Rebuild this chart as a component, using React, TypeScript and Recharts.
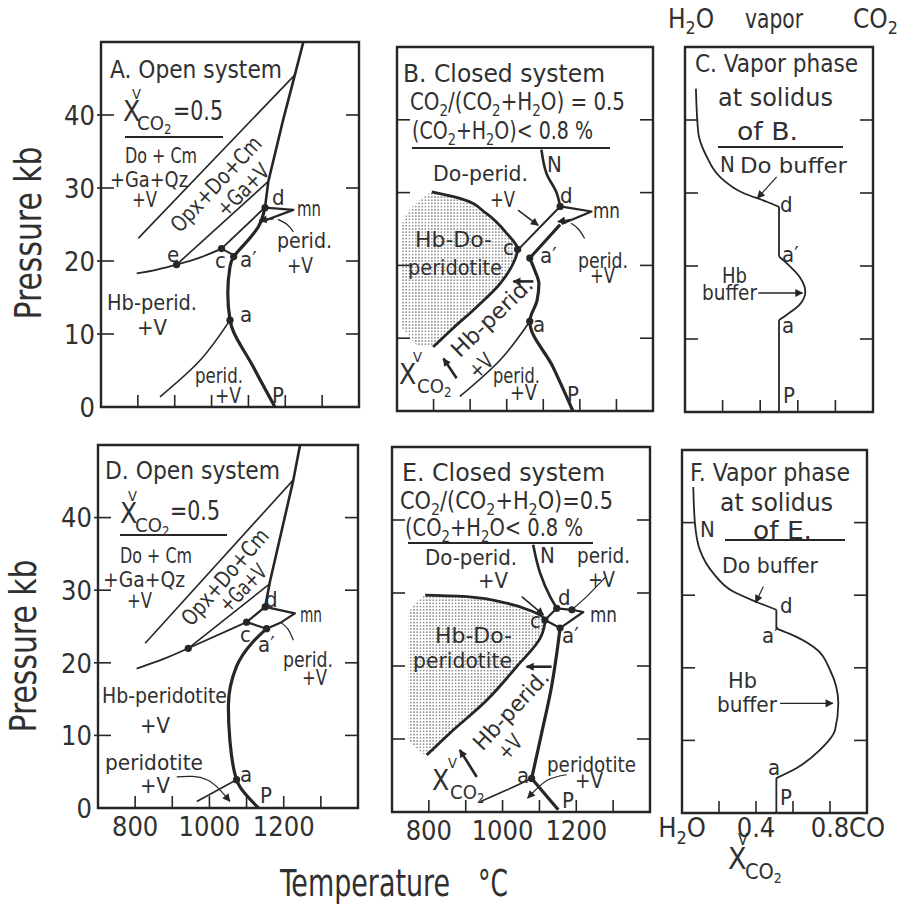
import React from "react";
import { Area, ComposedChart, Line, ReferenceArea, Scatter, XAxis, YAxis } from "recharts";

const INK = "#262626";
const TXT = "#303030";
const FONT = "'DejaVu Sans Condensed', 'DejaVu Sans', sans-serif";
const THICK = 3.2;
const MED = 2.2;
const THIN = 1.6;

// axes
const T_DOMAIN: [number, number] = [700, 1400];
const T_TICKS = [800, 900, 1000, 1100, 1200, 1300];
const T_LABELS = [800, 1000, 1200];
const X_DOMAIN: [number, number] = [0, 1];
const X_TICKS = [0.2, 0.4, 0.6, 0.8];
const F_TICKS = [0, 0.2, 0.4, 0.6, 0.8, 1];
const F_LABELS = [0, 0.4, 0.8, 1];
const P_TICKS = [10, 20, 30, 40];
const P_TICKS_LAB = [0, 10, 20, 30, 40];

// ---- A. open system  [T °C, P kb] ----
const aSolidus = [[1172, 0], [1113, 5.5], [1050, 11.9], [1044, 15.6], [1050, 19.2], [1060, 20.6], [1075, 21.5], [1100, 22.9], [1127, 24.7], [1145, 27.3]];
const aSteep = [[1145, 27.3], [1154, 30.9], [1194, 39.3], [1226, 45.5], [1249, 50]];
const aUpperDiag = [[801, 23.1], [1226, 45.5]];
const aLowerDiag = [[905, 19.5], [1154, 30.9]];
const aLeft = [[797, 18.3], [850, 18.8], [905, 19.5], [970, 20.5], [1027, 21.7]];
const aCA = [[1027, 21.7], [1060, 20.8]];
const aCD = [[1027, 21.7], [1140, 27.1]];
const aWedge = [[1145, 27.3], [1222, 27.0], [1132, 25.3]];
const aWedgeArrow = [[1168, 25.8], [1130, 25.6]];
const aLeader = [[1222, 24.0], [1205, 25.0], [1180, 25.7]];
const aLower = [[860, 1.4], [969, 6.4], [1050, 11.9]];
const aDots = [[905, 19.5], [1027, 21.7], [1060, 20.6], [1050, 11.9], [1145, 27.3]];

// ---- B. closed system ----
const bSolidus = [[1181, 0], [1126, 6.1], [1063, 12.3], [1083, 15.2], [1088, 17.5], [1076, 19.4], [1063, 21.0]];
const bStripLow = [[1063, 21.0], [1146, 25.6]];
const bStripHigh = [[1032, 22.2], [1146, 28.1]];
const bN = [[1146, 28.1], [1137, 29.9], [1109, 32.6], [1095, 35.9]];
const bWedge = [[1146, 28.1], [1232, 27.4], [1150, 25.7]];
const bWedgeArrow = [[1175, 26.3], [1140, 26.0]];
const bBoundary = [[799, 8.8], [854, 11.4], [918, 14.3], [982, 17.5], [1018, 20.3], [1030, 22.2], [1000, 24.4], [945, 27.1], [872, 29.2], [795, 30.1]];
const bStipple = [[712, 11.5, 25.5], [727, 10.7, 27.1], [755, 9.1, 28.6], [799, 8.8, 30.0], [850, 11.2, 29.5], [900, 13.5, 28.4], [950, 15.9, 26.8], [1000, 18.9, 24.4], [1018, 20.3, 23.3], [1030, 22.0, 22.2]];
const bLower = [[872, 2.0], [982, 7.0], [1063, 12.3]];
const bArrowDo = [[1031, 27.6], [1086, 25.5]];
const bArrowLeft = [[1073, 17.8], [1018, 17.8]];
const bArrowX = [[863, 4.5], [827, 7.2]];
const bLeader = [[1213, 23.7], [1196, 25.0], [1176, 25.8]];
const bDots = [[1030, 22.2], [1063, 21.0], [1063, 12.3], [1146, 28.1]];

// ---- C. vapor at solidus of B  [X_CO2, P kb] ----
const cTop = [[0.5, 28.1], [0.435, 28.8], [0.31, 30.0], [0.186, 32.2], [0.115, 35.0], [0.071, 38.2], [0.058, 44.3]];
const cStem = [[0.5, 28.1], [0.5, 21.3]];
const cBulge = [[0.5, 12.6], [0.54, 13.3], [0.61, 14.7], [0.64, 16.5], [0.61, 18.5], [0.54, 20.4], [0.5, 21.3]];
const cBase = [[0.5, 12.6], [0.5, 0]];
const cArrowDo = [[0.488, 32.2], [0.385, 29.3]];
const cArrowHb = [[0.39, 16.3], [0.625, 16.3]];

// ---- D. open system ----
const dSolidus = [[1132, 0], [1073, 3.9], [1055, 9.4], [1051, 14], [1073, 19.5], [1114, 22.7], [1154, 24.7]];
const dSteep = [[1150, 27.7], [1163, 31.2], [1226, 45.2], [1244, 50]];
const dUpperDiag = [[827, 22.7], [1226, 45.2]];
const dLeft = [[804, 19.2], [880, 20.6], [943, 22.0]];
const dLowerDiag = [[943, 22.0], [1163, 30.9]];
const dCLine = [[943, 22.0], [1100, 25.6]];
const dQuad = [[1100, 25.6], [1150, 27.7], [1230, 26.8], [1194, 25.6], [1154, 24.7], [1100, 25.6]];
const dLower = [[966, 0.9], [1073, 3.9]];
const dArrowPerid = [[912, 4.3], [993, 3.9], [1055, 0.9]];
const dLeader = [[1226, 23.1], [1212, 24.6], [1194, 25.5]];
const dDots = [[943, 22.0], [1100, 25.6], [1154, 24.7], [1150, 27.7], [1073, 3.9]];

// ---- E. closed system ----
const eSolidusLow = [[1151, 0.3], [1079, 4.6]];
const eSolidus = [[1079, 4.6], [1106, 10.8], [1133, 17.2], [1147, 21.7], [1156, 25.2]];
const eN = [[1147, 27.9], [1129, 29.5], [1102, 32.7], [1083, 36.6]];
const eQuad = [[1115, 26.3], [1147, 27.9], [1188, 27.7], [1219, 27.4], [1156, 25.2], [1115, 26.3]];
const eBoundary = [[794, 7.8], [857, 10.8], [957, 15.3], [1038, 19.9], [1104, 24.0], [1115, 26.3], [1080, 27.5], [1011, 28.6], [903, 29.5], [790, 29.7]];
const eStipple = [[744, 9.9, 27.2], [770, 8.5, 29.0], [794, 7.8, 29.7], [857, 10.8, 29.6], [903, 12.9, 29.5], [957, 15.3, 29.1], [1011, 18.4, 28.6], [1038, 19.9, 28.0], [1070, 21.9, 27.3], [1104, 24.0, 26.5], [1115, 26.2, 26.3]];
const eLower = [[939, 1.4], [1011, 3.0], [1079, 4.6]];
const eArrowPerid = [[1174, 5.1], [1120, 4.3], [1068, 1.9]];
const eArrowLeft = [[1133, 19.9], [1065, 19.9]];
const eArrowDo = [[1052, 29.5], [1111, 27.0]];
const eLeader = [[1280, 32.2], [1230, 29.6], [1188, 27.7]];
const eArrowX = [[930, 4.8], [884, 8.5]];
const eDots = [[1115, 26.3], [1147, 27.9], [1188, 27.7], [1156, 25.2], [1079, 4.6]];

// ---- F. vapor at solidus of E ----
const fTop = [[0.51, 28.0], [0.40, 29.1], [0.277, 30.5], [0.17, 33.0], [0.097, 36.2], [0.07, 39.9], [0.061, 44.9]];
const fStem = [[0.51, 28.0], [0.51, 25.4]];
const fBulge = [[0.51, 4.8], [0.62, 6.2], [0.746, 8.7], [0.827, 11.4], [0.845, 15.1], [0.80, 19.7], [0.71, 22.9], [0.58, 24.7], [0.51, 25.4]];
const fBase = [[0.51, 4.8], [0.51, 0]];
const fArrowDo = [[0.44, 31.2], [0.398, 29.0]];
const fArrowHb = [[0.53, 15.1], [0.815, 15.1]];

const pts = (a: number[][]) => a.map(([x, y]) => ({ x, y }));
const band = (a: number[][]) => a.map(([x, lo, hi]) => ({ x, r: [lo, hi] }));

function curve(key: string, data: number[][], w: number, type: any = "linear", arrow?: string) {
  return (
    <Line
      key={key}
      data={pts(data)}
      dataKey="y"
      type={type}
      stroke={INK}
      strokeWidth={w}
      strokeLinejoin="round"
      dot={false}
      activeDot={false}
      legendType="none"
      isAnimationActive={false}
      markerEnd={arrow ? `url(#${arrow})` : undefined}
    />
  );
}

function dots(key: string, data: number[][]) {
  return (
    <Scatter
      key={key}
      data={pts(data)}
      isAnimationActive={false}
      shape={(p: any) => <circle cx={p.cx} cy={p.cy} r={3.6} fill={INK} />}
    />
  );
}

function stipple(key: string, data: number[][], id: string) {
  return (
    <Area
      key={key}
      data={band(data)}
      dataKey="r"
      type="monotone"
      stroke="none"
      fill={`url(#dots-${id})`}
      fillOpacity={1}
      dot={false}
      activeDot={false}
      isAnimationActive={false}
    />
  );
}

function fTickText(v: number) {
  if (v === 0)
    return (
      <>
        H<tspan dy={7} fontSize={18}>2</tspan>
        <tspan dy={-7}>O</tspan>
      </>
    );
  if (v === 1) return "CO";
  return String(v);
}

interface PanelProps {
  id: string;
  box: [number, number, number, number];
  xDomain: [number, number];
  xTicks: number[];
  xLabels?: number[];
  xText?: (v: number) => React.ReactNode;
  labelDy?: number;
  yTicks: number[];
  yLabels?: boolean;
  padL?: number;
  padR?: number;
  padB?: number;
  children: React.ReactNode;
}

function Panel({ id, box, xDomain, xTicks, xLabels, xText, labelDy = 28, yTicks, yLabels, padL = 2, padR = 2, padB = 2, children }: PanelProps) {
  const [left, top, w, h] = box;

  const xTick = (p: any) => {
    const v = p.payload.value;
    const inner = v > xDomain[0] && v < xDomain[1];
    const lab = xLabels && xLabels.includes(v);
    return (
      <g>
        {inner && <line x1={p.x} x2={p.x} y1={p.y} y2={p.y - 12} stroke={INK} strokeWidth={THIN} />}
        {lab && (
          <text x={p.x} y={p.y + labelDy} textAnchor="middle" fontSize={27} fill={TXT} fontFamily={FONT}>
            {xText ? xText(v) : String(v)}
          </text>
        )}
      </g>
    );
  };

  const yTick = (p: any) => {
    const v = p.payload.value;
    const inner = v > 0 && v < 50;
    return (
      <g>
        {inner && <line x1={p.x - (yLabels ? 4 : 0)} x2={p.x + 13} y1={p.y} y2={p.y} stroke={INK} strokeWidth={THIN} />}
        {inner && <line x1={p.x + w - 13} x2={p.x + w} y1={p.y} y2={p.y} stroke={INK} strokeWidth={THIN} />}
        {yLabels && (
          <text x={p.x - 6} y={p.y} dy="0.36em" textAnchor="end" fontSize={27} fill={TXT} fontFamily={FONT}>
            {v}
          </text>
        )}
      </g>
    );
  };

  return (
    <div style={{ position: "absolute", left: left - padL, top: top - 2 }}>
      <ComposedChart width={padL + w + padR} height={2 + h + padB} margin={{ top: 2, right: padR, bottom: 0, left: 0 }}>
        <defs>
          <marker id={`ah-${id}`} viewBox="0 0 10 10" refX="9" refY="5" markerWidth="10" markerHeight="8" orient="auto" markerUnits="userSpaceOnUse">
            <path d="M0,0 L10,5 L0,10 z" fill={INK} />
          </marker>
          <pattern id={`dots-${id}`} width="3.2" height="3.2" patternUnits="userSpaceOnUse">
            <circle cx="1.6" cy="1.6" r="0.75" fill="#666" />
          </pattern>
        </defs>
        <XAxis type="number" dataKey="x" domain={xDomain} ticks={xTicks} interval={0} height={padB} tickSize={0} tickMargin={0} axisLine={false} tickLine={false} tick={xTick} allowDataOverflow />
        <YAxis type="number" dataKey="y" domain={[0, 50]} ticks={yTicks} interval={0} width={padL} tickSize={0} tickMargin={0} axisLine={false} tickLine={false} tick={yTick} allowDataOverflow />
        <ReferenceArea x1={xDomain[0]} x2={xDomain[1]} y1={0} y2={50} fill="none" stroke={INK} strokeWidth={2.4} fillOpacity={0} />
        {children}
      </ComposedChart>
    </div>
  );
}

// ---- text laid over the panels (page px) ----
type Part = [string, number];
interface Lab { x: number; y: number; t?: string; parts?: Part[]; s?: number; len?: number; r?: number }

const CO2RATIO: Part[] = [["CO", 0], ["2", 1], ["/(CO", 0], ["2", 1], ["+H", 0], ["2", 1], ["O) = 0.5", 0]];
const CO2RATIO_E: Part[] = [["CO", 0], ["2", 1], ["/(CO", 0], ["2", 1], ["+H", 0], ["2", 1], ["O)=0.5", 0]];
const CO2SUM_B: Part[] = [["(CO", 0], ["2", 1], ["+H", 0], ["2", 1], ["O)< 0.8 %", 0]];
const CO2SUM_E: Part[] = [["(CO", 0], ["2", 1], ["+H", 0], ["2", 1], ["O< 0.8 %", 0]];

const LABELS: Lab[] = [
  // A
  { x: 110, y: 78, t: "A. Open system", s: 24, len: 172 },
  { x: 173, y: 120, t: "=0.5", s: 26, len: 50 },
  { x: 125, y: 163, t: "Do + Cm", len: 72 },
  { x: 110, y: 187, t: "+Ga+Qz", len: 78 },
  { x: 132, y: 207, t: "+V", len: 25 },
  { x: 216, y: 184, t: "Opx+Do+Cm", len: 122, r: -47 },
  { x: 243, y: 190, t: "+Ga+V", len: 64, r: -45 },
  { x: 167, y: 262, t: "e" },
  { x: 215, y: 268, t: "c" },
  { x: 240, y: 267, t: "a′" },
  { x: 272, y: 205, t: "d" },
  { x: 297, y: 216, t: "mn", len: 24 },
  { x: 277, y: 248, t: "perid.", len: 55 },
  { x: 287, y: 273, t: "+V", len: 26 },
  { x: 107, y: 310, t: "Hb-perid.", len: 90 },
  { x: 137, y: 335, t: "+V", len: 30 },
  { x: 240, y: 322, t: "a" },
  { x: 195, y: 383, t: "perid.", len: 48 },
  { x: 215, y: 403, t: "+V", len: 26 },
  { x: 272, y: 403, t: "P" },
  // B
  { x: 403, y: 82, t: "B. Closed system", s: 24, len: 202 },
  { x: 410, y: 110, parts: CO2RATIO, s: 24, len: 215 },
  { x: 412, y: 139, parts: CO2SUM_B, s: 24, len: 181 },
  { x: 547, y: 172, t: "N" },
  { x: 433, y: 181, t: "Do-perid.", len: 95 },
  { x: 490, y: 207, t: "+V", len: 25 },
  { x: 560, y: 203, t: "d" },
  { x: 593, y: 218, t: "mn", len: 27 },
  { x: 415, y: 247, t: "Hb-Do-", len: 77 },
  { x: 503, y: 255, t: "c" },
  { x: 540, y: 263, t: "a′" },
  { x: 408, y: 275, t: "peridotite", len: 94 },
  { x: 578, y: 268, t: "perid.", len: 50 },
  { x: 590, y: 283, t: "+V", len: 25 },
  { x: 492, y: 317, t: "Hb-perid.", len: 104, r: -44 },
  { x: 481, y: 366, t: "+V", len: 25, r: -44 },
  { x: 493, y: 383, t: "perid.", len: 47 },
  { x: 510, y: 400, t: "+V", len: 27 },
  { x: 567, y: 402, t: "P" },
  { x: 533, y: 332, t: "a" },
  // C
  { x: 668, y: 28, parts: [["H", 0], ["2", 1], ["O", 0]], s: 26 },
  { x: 745, y: 28, t: "vapor", s: 26, len: 58 },
  { x: 853, y: 28, parts: [["CO", 0], ["2", 1]], s: 26 },
  { x: 695, y: 72, t: "C. Vapor phase", s: 24, len: 163 },
  { x: 718, y: 106, t: "at solidus", s: 24, len: 115 },
  { x: 737, y: 140, t: "of B.", s: 24, len: 61 },
  { x: 720, y: 172, t: "N" },
  { x: 740, y: 173, t: "Do buffer", len: 107 },
  { x: 780, y: 212, t: "d" },
  { x: 782, y: 262, t: "a′" },
  { x: 722, y: 283, t: "Hb", len: 25 },
  { x: 702, y: 300, t: "buffer", len: 55 },
  { x: 782, y: 333, t: "a" },
  { x: 783, y: 403, t: "P" },
  // D
  { x: 105, y: 479, t: "D. Open system", s: 24, len: 175 },
  { x: 170, y: 520, t: "=0.5", s: 26, len: 50 },
  { x: 120, y: 563, t: "Do + Cm", len: 72 },
  { x: 103, y: 587, t: "+Ga+Qz", len: 82 },
  { x: 127, y: 608, t: "+V", len: 25 },
  { x: 225, y: 577, t: "Opx+Do+Cm", len: 120, r: -49 },
  { x: 243, y: 588, t: "+Ga+V", len: 57, r: -45 },
  { x: 265, y: 607, t: "d" },
  { x: 300, y: 622, t: "mn", len: 22 },
  { x: 240, y: 642, t: "c" },
  { x: 258, y: 652, t: "a′" },
  { x: 283, y: 667, t: "perid.", len: 50 },
  { x: 302, y: 685, t: "+V", len: 25 },
  { x: 102, y: 703, t: "Hb-peridotite", len: 125 },
  { x: 140, y: 733, t: "+V", len: 30 },
  { x: 105, y: 770, t: "peridotite", len: 98 },
  { x: 140, y: 793, t: "+V", len: 30 },
  { x: 240, y: 782, t: "a" },
  { x: 260, y: 803, t: "P" },
  // E
  { x: 402, y: 481, t: "E. Closed system", s: 24, len: 203 },
  { x: 400, y: 509, parts: CO2RATIO_E, s: 24, len: 213 },
  { x: 405, y: 536, parts: CO2SUM_E, s: 24, len: 178 },
  { x: 425, y: 565, t: "Do-perid.", len: 92 },
  { x: 478, y: 588, t: "+V", len: 30 },
  { x: 540, y: 563, t: "N" },
  { x: 577, y: 563, t: "perid.", len: 53 },
  { x: 588, y: 587, t: "+V", len: 27 },
  { x: 558, y: 605, t: "d" },
  { x: 590, y: 622, t: "mn", len: 27 },
  { x: 530, y: 628, t: "c" },
  { x: 562, y: 643, t: "a′" },
  { x: 435, y: 643, t: "Hb-Do-", len: 77 },
  { x: 413, y: 668, t: "peridotite", len: 99 },
  { x: 511, y: 710, t: "Hb-perid.", len: 100, r: -47 },
  { x: 510, y: 747, t: "+V", len: 25, r: -47 },
  { x: 547, y: 772, t: "peridotite", len: 89 },
  { x: 575, y: 788, t: "+V", len: 28 },
  { x: 517, y: 783, t: "a" },
  { x: 562, y: 808, t: "P" },
  // F
  { x: 690, y: 481, t: "F. Vapor phase", s: 24, len: 160 },
  { x: 720, y: 511, t: "at solidus", s: 24, len: 113 },
  { x: 700, y: 537, t: "N" },
  { x: 753, y: 539, t: "of E.", s: 24, len: 59 },
  { x: 722, y: 573, t: "Do buffer", len: 96 },
  { x: 780, y: 613, t: "d" },
  { x: 762, y: 643, t: "a′" },
  { x: 728, y: 688, t: "Hb", len: 29 },
  { x: 717, y: 712, t: "buffer", len: 60 },
  { x: 768, y: 775, t: "a" },
  { x: 780, y: 805, t: "P" },
  // axis titles
  { x: 28, y: 233, t: "Pressure  kb", s: 38, len: 173, r: -90 },
  { x: 23, y: 646, t: "Pressure  kb", s: 38, len: 173, r: -90 },
  { x: 280, y: 896, t: "Temperature", s: 37, len: 170 },
  { x: 478, y: 896, t: "°C", s: 37, len: 30 },
];

// underline rules: x1, y, x2
const RULES = [[125, 137, 223], [412, 148, 610], [718, 147, 843], [120, 535, 227], [408, 543, 593], [725, 540, 845]];

// X^V_CO2 symbols: x, y, size, V dx, CO dx
const XCO2 = [[123, 121, 28, 9, 14], [399, 384, 28, 14, 18], [120, 523, 28, 8, 15], [432, 790, 28, 16, 18], [728, 869, 30, 10, 17]];

function renderParts(parts: Part[], s: number) {
  let shift = 0;
  return parts.map(([str, k], i) => {
    const target = k ? s * 0.24 : 0;
    const dy = target - shift;
    shift = target;
    return (
      <tspan key={i} dy={dy} fontSize={k ? s * 0.68 : s}>
        {str}
      </tspan>
    );
  });
}

function Txt({ x, y, t, parts, s = 22, len, r }: Lab) {
  const common: any = { fontSize: s };
  if (len) {
    common.textLength = len;
    common.lengthAdjust = "spacingAndGlyphs";
  }
  const content = parts ? renderParts(parts, s) : t;
  if (r !== undefined)
    return (
      <text x={x} y={y} {...common} textAnchor="middle" dominantBaseline="central" transform={`rotate(${r} ${x} ${y})`}>
        {content}
      </text>
    );
  return (
    <text x={x} y={y} {...common}>
      {content}
    </text>
  );
}

function Overlay() {
  return (
    <svg width={901} height={905} style={{ position: "absolute", left: 0, top: 0, pointerEvents: "none" }} fontFamily={FONT} fill={TXT}>
      {LABELS.map((l, i) => (
        <Txt key={i} {...l} />
      ))}
      {RULES.map(([x1, y, x2], i) => (
        <line key={i} x1={x1} x2={x2} y1={y} y2={y} stroke={INK} strokeWidth={1.8} />
      ))}
      {XCO2.map(([x, y, s, vdx, cdx], i) => (
        <g key={i}>
          <text x={x} y={y} fontSize={s}>X</text>
          <text x={x + vdx} y={y - s * 0.8} fontSize={s * 0.52}>V</text>
          <text x={x + cdx} y={y + s * 0.33} fontSize={s * 0.72}>
            CO<tspan dy={s * 0.12} fontSize={s * 0.47}>2</tspan>
          </text>
        </g>
      ))}
    </svg>
  );
}

export default function App() {
  return (
    <div style={{ position: "absolute", left: 0, top: 0, width: 901, height: 905, background: "#fff", fontFamily: FONT }}>
      <Panel id="A" box={[101, 42, 258, 365]} xDomain={T_DOMAIN} xTicks={T_TICKS} yTicks={P_TICKS_LAB} yLabels padL={50} padB={18}>
        {curve("sol", aSolidus, THICK, "monotoneY")}
        {curve("steep", aSteep, 2.6)}
        {curve("ud", aUpperDiag, THIN)}
        {curve("ld", aLowerDiag, THIN)}
        {curve("left", aLeft, 1.8, "monotoneX")}
        {curve("ca", aCA, 1.8)}
        {curve("cd", aCD, 1.8)}
        {curve("wedge", aWedge, MED)}
        {curve("warr", aWedgeArrow, THIN, "linear", "ah-A")}
        {curve("lead", aLeader, 1.2, "natural")}
        {curve("low", aLower, THIN, "natural")}
        {dots("dots", aDots)}
      </Panel>

      <Panel id="B" box={[397, 47, 256, 364]} xDomain={T_DOMAIN} xTicks={T_TICKS} yTicks={P_TICKS}>
        {stipple("stip", bStipple, "B")}
        {curve("sol", bSolidus, THICK, "monotoneY")}
        {curve("sl", bStripLow, 3)}
        {curve("sh", bStripHigh, 2)}
        {curve("n", bN, 2.6, "monotoneY")}
        {curve("wedge", bWedge, MED)}
        {curve("warr", bWedgeArrow, THIN, "linear", "ah-B")}
        {curve("bound", bBoundary, 2.8, "monotoneY")}
        {curve("low", bLower, THIN, "natural")}
        {curve("ado", bArrowDo, THIN, "linear", "ah-B")}
        {curve("aleft", bArrowLeft, 2.6, "linear", "ah-B")}
        {curve("ax", bArrowX, 2.6, "linear", "ah-B")}
        {curve("lead", bLeader, 1.2, "natural")}
        {dots("dots", bDots)}
      </Panel>

      <Panel id="C" box={[685, 47, 188, 365]} xDomain={X_DOMAIN} xTicks={X_TICKS} yTicks={P_TICKS}>
        {curve("top", cTop, 1.8, "monotoneY")}
        {curve("stem", cStem, 1.8)}
        {curve("bulge", cBulge, 1.8, "monotoneY")}
        {curve("base", cBase, 1.8)}
        {curve("ado", cArrowDo, 1.2, "linear", "ah-C")}
        {curve("ahb", cArrowHb, 1.4, "linear", "ah-C")}
      </Panel>

      <Panel id="D" box={[98, 445, 260, 363]} xDomain={T_DOMAIN} xTicks={T_TICKS} xLabels={T_LABELS} yTicks={P_TICKS_LAB} yLabels padL={50} padB={40}>
        {curve("sol", dSolidus, THICK, "monotoneY")}
        {curve("steep", dSteep, 2.6)}
        {curve("ud", dUpperDiag, THIN)}
        {curve("left", dLeft, 1.8, "natural")}
        {curve("ld", dLowerDiag, THIN)}
        {curve("cl", dCLine, 1.8)}
        {curve("quad", dQuad, MED)}
        {curve("low", dLower, THIN)}
        {curve("aper", dArrowPerid, 1.2, "natural", "ah-D")}
        {curve("lead", dLeader, 1.2, "natural")}
        {dots("dots", dDots)}
      </Panel>

      <Panel id="E" box={[392, 447, 258, 365]} xDomain={T_DOMAIN} xTicks={T_TICKS} xLabels={T_LABELS} yTicks={P_TICKS} padB={40}>
        {stipple("stip", eStipple, "E")}
        {curve("soll", eSolidusLow, THICK)}
        {curve("sol", eSolidus, THICK, "monotoneY")}
        {curve("n", eN, 2.6, "monotoneY")}
        {curve("quad", eQuad, MED)}
        {curve("bound", eBoundary, 2.8, "monotoneY")}
        {curve("low", eLower, THIN, "natural")}
        {curve("aper", eArrowPerid, 1.2, "natural", "ah-E")}
        {curve("aleft", eArrowLeft, 2.6, "linear", "ah-E")}
        {curve("ado", eArrowDo, THIN, "linear", "ah-E")}
        {curve("lead", eLeader, 1.2, "natural")}
        {curve("ax", eArrowX, 2.6, "linear", "ah-E")}
        {dots("dots", eDots)}
      </Panel>

      <Panel id="F" box={[682, 450, 185, 363]} xDomain={X_DOMAIN} xTicks={F_TICKS} xLabels={F_LABELS} xText={fTickText} labelDy={24} yTicks={P_TICKS} padL={30} padR={30} padB={40}>
        {curve("top", fTop, 1.8, "monotoneY")}
        {curve("stem", fStem, 1.8)}
        {curve("bulge", fBulge, 1.8, "monotoneY")}
        {curve("base", fBase, 1.8)}
        {curve("ado", fArrowDo, 1.2, "linear", "ah-F")}
        {curve("ahb", fArrowHb, 1.4, "linear", "ah-F")}
      </Panel>

      <Overlay />
    </div>
  );
}
